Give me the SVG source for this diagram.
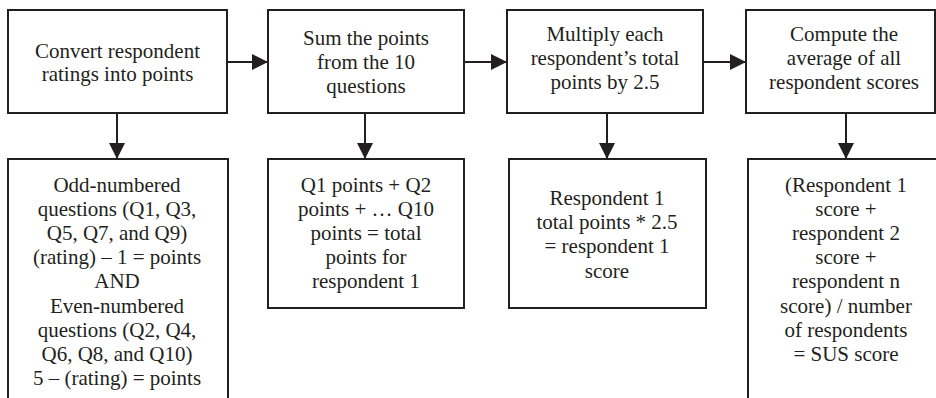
<svg xmlns="http://www.w3.org/2000/svg" width="936" height="398" viewBox="0 0 936 398">
  <defs>
    <style>
      .box { fill: #ffffff; stroke: #231f20; stroke-width: 2; }
      .lbl { font-size: 21px; fill: #231f20; text-anchor: middle; }
      .wire { stroke: #231f20; stroke-width: 2; fill: none; }
    </style>
    <marker id="head" markerWidth="16" markerHeight="16" viewBox="0 0 16 16" refX="16" refY="8" orient="auto" markerUnits="userSpaceOnUse">
      <path d="M0,0 L16,8 L0,16 Z" fill="#231f20"/>
    </marker>
  </defs>

  <rect width="936" height="398" fill="#ffffff"/>

  <!-- connectors -->
  <g id="connectors">
    <line class="wire" x1="227" y1="62" x2="268" y2="62" marker-end="url(#head)"/>
    <line class="wire" x1="464" y1="62" x2="507" y2="62" marker-end="url(#head)"/>
    <line class="wire" x1="703" y1="62" x2="746" y2="62" marker-end="url(#head)"/>
    <line class="wire" x1="117" y1="113" x2="117" y2="159" marker-end="url(#head)"/>
    <line class="wire" x1="365" y1="113" x2="365" y2="159" marker-end="url(#head)"/>
    <line class="wire" x1="607" y1="113" x2="607" y2="159" marker-end="url(#head)"/>
    <line class="wire" x1="846" y1="113" x2="846" y2="159" marker-end="url(#head)"/>
  </g>

  <g font-family="Liberation Serif, Times New Roman, Tinos, DejaVu Serif, serif">
  <!-- top row: process steps -->
  <g id="step-convert">
    <rect class="box" x="8" y="10" width="219" height="103"/>
    <text class="lbl" x="117.5" y="58">Convert respondent</text>
    <text class="lbl" x="117.5" y="81">ratings into points</text>
  </g>
  <g id="step-sum">
    <rect class="box" x="268" y="10" width="196" height="103"/>
    <text class="lbl" x="366" y="45">Sum the points</text>
    <text class="lbl" x="366" y="69">from the 10</text>
    <text class="lbl" x="366" y="93">questions</text>
  </g>
  <g id="step-multiply">
    <rect class="box" x="507" y="10" width="196" height="103"/>
    <text class="lbl" x="605" y="41">Multiply each</text>
    <text class="lbl" x="605" y="65">respondent’s total</text>
    <text class="lbl" x="605" y="89">points by 2.5</text>
  </g>
  <g id="step-average">
    <rect class="box" x="746" y="10" width="189" height="103"/>
    <text class="lbl" x="844" y="41">Compute the</text>
    <text class="lbl" x="844" y="65">average of all</text>
    <text class="lbl" x="844" y="89">respondent scores</text>
  </g>

  <!-- bottom row: formulas -->
  <g id="detail-convert">
    <rect class="box" x="8" y="159" width="220" height="260"/>
    <text class="lbl" x="117" y="192">Odd-numbered</text>
    <text class="lbl" x="117" y="216">questions (Q1, Q3,</text>
    <text class="lbl" x="117" y="240">Q5, Q7, and Q9)</text>
    <text class="lbl" x="117" y="264">(rating) – 1 = points</text>
    <text class="lbl" x="117" y="288">AND</text>
    <text class="lbl" x="117" y="313">Even-numbered</text>
    <text class="lbl" x="117" y="337">questions (Q2, Q4,</text>
    <text class="lbl" x="117" y="361">Q6, Q8, and Q10)</text>
    <text class="lbl" x="117" y="385">5 – (rating) = points</text>
  </g>
  <g id="detail-sum">
    <rect class="box" x="268" y="159" width="196" height="149"/>
    <text class="lbl" x="366" y="192">Q1 points + Q2</text>
    <text class="lbl" x="366" y="216">points + … Q10</text>
    <text class="lbl" x="366" y="240">points = total</text>
    <text class="lbl" x="366" y="264">points for</text>
    <text class="lbl" x="366" y="288">respondent 1</text>
  </g>
  <g id="detail-multiply">
    <rect class="box" x="509" y="159" width="197" height="149"/>
    <text class="lbl" x="607" y="205">Respondent 1</text>
    <text class="lbl" x="607" y="229">total points * 2.5</text>
    <text class="lbl" x="607" y="253">= respondent 1</text>
    <text class="lbl" x="607" y="278">score</text>
  </g>
  <g id="detail-average">
    <rect class="box" x="748" y="159" width="196" height="260"/>
    <text class="lbl" x="846" y="192">(Respondent 1</text>
    <text class="lbl" x="846" y="216">score +</text>
    <text class="lbl" x="846" y="240">respondent 2</text>
    <text class="lbl" x="846" y="264">score +</text>
    <text class="lbl" x="846" y="288">respondent n</text>
    <text class="lbl" x="846" y="313">score) / number</text>
    <text class="lbl" x="846" y="337">of respondents</text>
    <text class="lbl" x="846" y="361">= SUS score</text>
  </g>
  </g>
</svg>
